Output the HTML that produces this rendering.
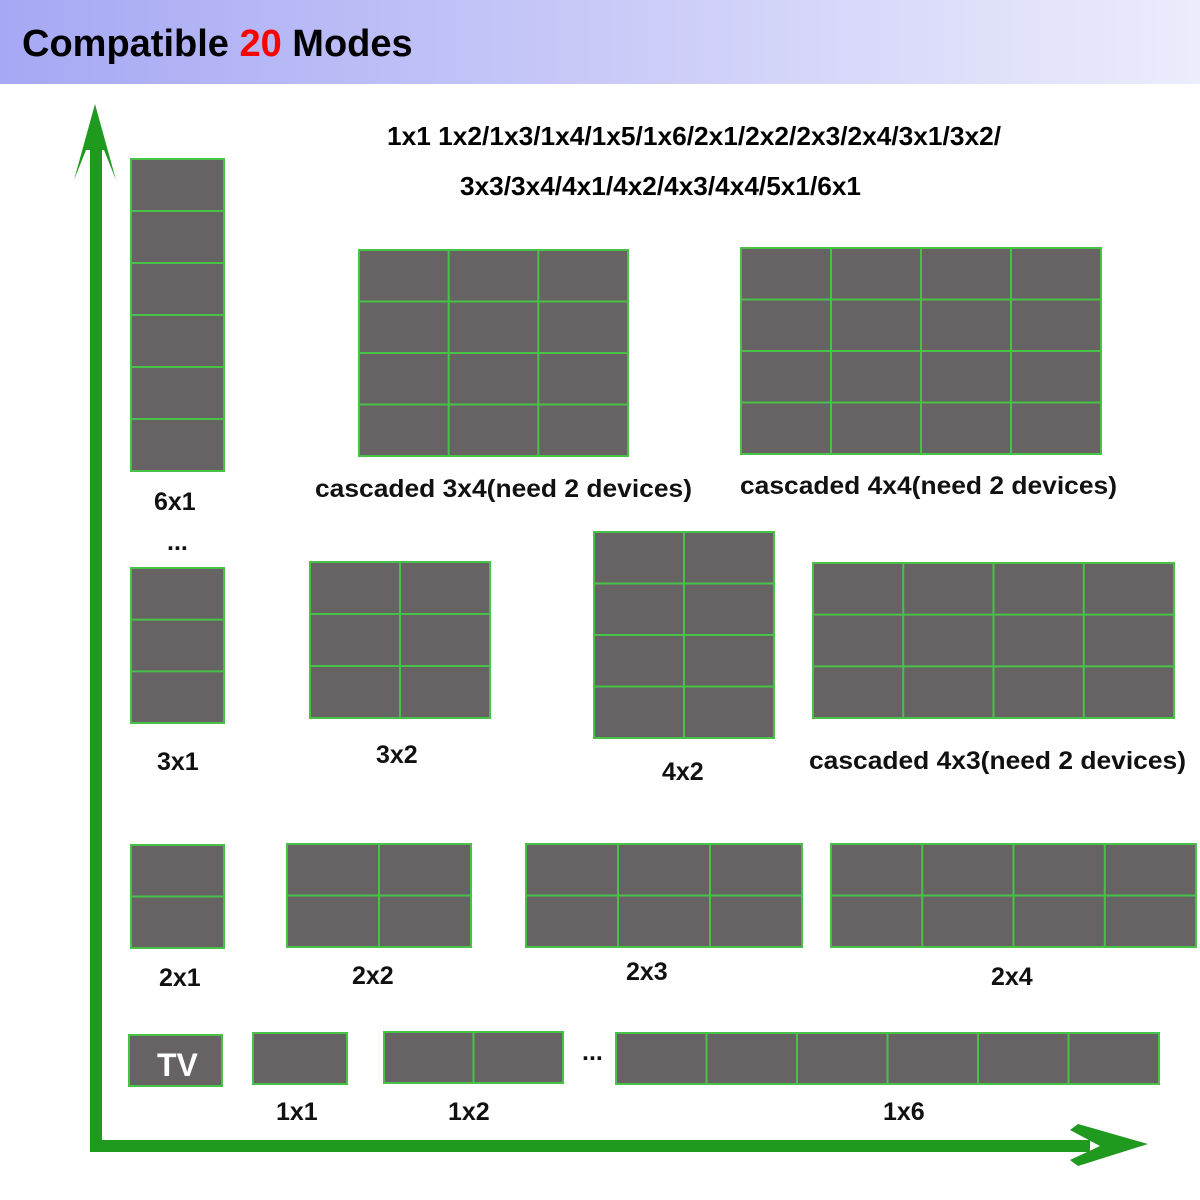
<!DOCTYPE html>
<html><head><meta charset="utf-8"><style>
html,body{margin:0;padding:0;background:#fff;}
svg{display:block}
text{font-family:"Liberation Sans",Arial,sans-serif;font-weight:bold;}
</style></head><body>
<svg id="s" width="1200" height="1200" xmlns="http://www.w3.org/2000/svg">
<defs><linearGradient id="hg" x1="0" x2="1"><stop offset="0" stop-color="#a6a8f4"/><stop offset="1" stop-color="#ececfc"/></linearGradient></defs>
<rect x="0" y="0" width="1200" height="84" fill="url(#hg)"/>
<text x="22" y="56" font-size="38" fill="#000">Compatible <tspan fill="#f00">20</tspan> Modes</text>
<text x="387" y="145" font-size="26" textLength="614" lengthAdjust="spacingAndGlyphs">1x1 1x2/1x3/1x4/1x5/1x6/2x1/2x2/2x3/2x4/3x1/3x2/</text>
<text x="460" y="195" font-size="26" textLength="401" lengthAdjust="spacingAndGlyphs">3x3/3x4/4x1/4x2/4x3/4x4/5x1/6x1</text>
<g id="grids"></g>
<rect x="90" y="140" width="12" height="1012" fill="#1f9a1f"/>
<polygon points="95,104 116,180 104,150 96,150 86,150 74,180" fill="#1f9a1f"/>
<rect x="90" y="1140" width="1000" height="12" fill="#1f9a1f"/>
<polygon points="1148,1144 1078,1124 1070,1130 1100,1146 1070,1160 1078,1166" fill="#1f9a1f"/>
<text x="157" y="1076" font-size="32" fill="#fff">TV</text>
<g font-size="25" fill="#111">
<text x="154" y="510">6x1</text>
<text x="167" y="550">...</text>
<text x="157" y="770">3x1</text>
<text x="159" y="986">2x1</text>
<text x="276" y="1120">1x1</text>
<text x="448" y="1120">1x2</text>
<text x="582" y="1060">...</text>
<text x="883" y="1120">1x6</text>
<text x="352" y="984">2x2</text>
<text x="626" y="980">2x3</text>
<text x="991" y="985">2x4</text>
<text x="376" y="763">3x2</text>
<text x="662" y="780">4x2</text>
<text x="809" y="769" textLength="377" lengthAdjust="spacingAndGlyphs">cascaded 4x3(need 2 devices)</text>
<text x="315" y="497" textLength="377" lengthAdjust="spacingAndGlyphs">cascaded 3x4(need 2 devices)</text>
<text x="740" y="494" textLength="377" lengthAdjust="spacingAndGlyphs">cascaded 4x4(need 2 devices)</text>
</g>
</svg>
<script>
var G=[[131,159,93,312,1,6],[131,568,93,155,1,3],[131,845,93,103,1,2],[129,1035,93,51,1,1],
[253,1033,94,51,1,1],[384,1032,179,51,2,1],[616,1033,543,51,6,1],[287,844,184,103,2,2],
[526,844,276,103,3,2],[831,844,365,103,4,2],[310,562,180,156,2,3],[594,532,180,206,2,4],
[813,563,361,155,4,3],[359,250,269,206,3,4],[741,248,360,206,4,4]];
var g=document.getElementById('grids'),h='';
G.forEach(function(a){var x=a[0],y=a[1],w=a[2],H=a[3],c=a[4],r=a[5];
h+='<rect x="'+x+'" y="'+y+'" width="'+w+'" height="'+H+'" fill="#676364" stroke="#47c247" stroke-width="2"/>';
for(var i=1;i<c;i++){var xx=x+w*i/c;h+='<line x1="'+xx+'" y1="'+y+'" x2="'+xx+'" y2="'+(y+H)+'" stroke="#47c247" stroke-width="2"/>';}
for(var j=1;j<r;j++){var yy=y+H*j/r;h+='<line x1="'+x+'" y1="'+yy+'" x2="'+(x+w)+'" y2="'+yy+'" stroke="#47c247" stroke-width="2"/>';}
});
g.innerHTML=h;
</script>
</body></html>
